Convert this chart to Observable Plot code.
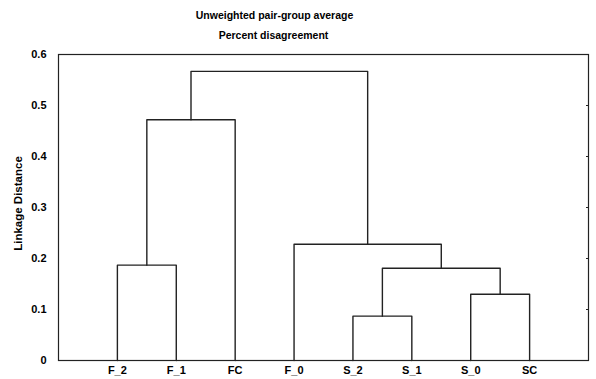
<!DOCTYPE html>
<html>
<head>
<meta charset="utf-8">
<script src="https://cdn.jsdelivr.net/npm/d3@7"></script>
<script src="https://cdn.jsdelivr.net/npm/@observablehq/plot@0.6"></script>
<style>
  html, body { margin: 0; padding: 0; background: #fff; }
  #chart svg { font-family: "Liberation Sans", Arial, sans-serif; }
</style>
</head>
<body>
<div id="chart"></div>
<script>
// Leaves in display order
const leaves = ["F_2", "F_1", "FC", "F_0", "S_2", "S_1", "S_0", "SC"];
// Merges: [left child, right child, linkage distance]; children are leaf names or merge ids
const mergeLeft   = ["F_2", "m0", "S_2", "S_0", "m2", "F_0", "m1"];
const mergeRight  = ["F_1", "FC", "S_1", "SC", "m3", "m4", "m5"];
const mergeHeight = [0.187, 0.472, 0.087, 0.130, 0.181, 0.228, 0.567];
const yTicks = [0, 0.1, 0.2, 0.3, 0.4, 0.5, 0.6];
const yTickLabels = ["0", "0.1", "0.2", "0.3", "0.4", "0.5", "0.6"];
const title = "Unweighted pair-group average";
const subtitle = "Percent disagreement";
const yLabel = "Linkage Distance";

// Build node positions from the merge table
const pos = new Map(leaves.map((n, i) => [n, {x: i + 1, h: 0}]));
const segs = [];
mergeLeft.forEach((l, i) => {
  const a = pos.get(l), b = pos.get(mergeRight[i]), h = mergeHeight[i];
  const id = "m" + i;
  segs.push({id, x: a.x, y: a.h}, {id, x: a.x, y: h}, {id, x: b.x, y: h}, {id, x: b.x, y: b.h});
  pos.set(id, {x: (a.x + b.x) / 2, h});
});

const chart = Plot.plot({
  width: 596,
  height: 379,
  marginTop: 54,
  marginBottom: 19,
  marginLeft: 58,
  marginRight: 8,
  style: {fontFamily: '"Liberation Sans", Arial, sans-serif', fontSize: "11px", fontWeight: "bold", background: "#fff"},
  x: {domain: [0, leaves.length + 1]},
  y: {domain: [0, 0.6]},
  marks: [
    Plot.frame({stroke: "#222", strokeWidth: 1.2}),
    Plot.axisY({ticks: yTicks, tickFormat: (d, i) => yTickLabels[i], tickSize: 0, tickPadding: 12, label: null, fontWeight: "bold", fill: "#000"}),
    Plot.axisY({anchor: "right", ticks: yTicks, tickFormat: () => "", tickSize: 3, dx: -3, label: null, stroke: "#222"}),
    Plot.axisX({ticks: leaves.map((d, i) => i + 1), tickFormat: (d) => leaves[d - 1], tickSize: 0, tickPadding: 6, label: null, fontWeight: "bold", fill: "#000"}),
    Plot.line(segs, {x: "x", y: "y", z: "id", stroke: "#222", strokeWidth: 1.4}),
    Plot.text([title], {frameAnchor: "top-left", dx: 216, dy: -43, text: d => d, textAnchor: "middle", fontWeight: "bold", fontSize: 10.5, fill: "#000"}),
    Plot.text([subtitle], {frameAnchor: "top-left", dx: 215, dy: -23, text: d => d, textAnchor: "middle", fontWeight: "bold", fontSize: 10.5, fill: "#000"}),
    Plot.text([yLabel], {frameAnchor: "left", dx: -40, dy: -4, rotate: -90, text: d => d, textAnchor: "middle", fontWeight: "bold", fontSize: 11.5, fill: "#000"})
  ]
});
document.getElementById("chart").appendChild(chart);
</script>
</body>
</html>
